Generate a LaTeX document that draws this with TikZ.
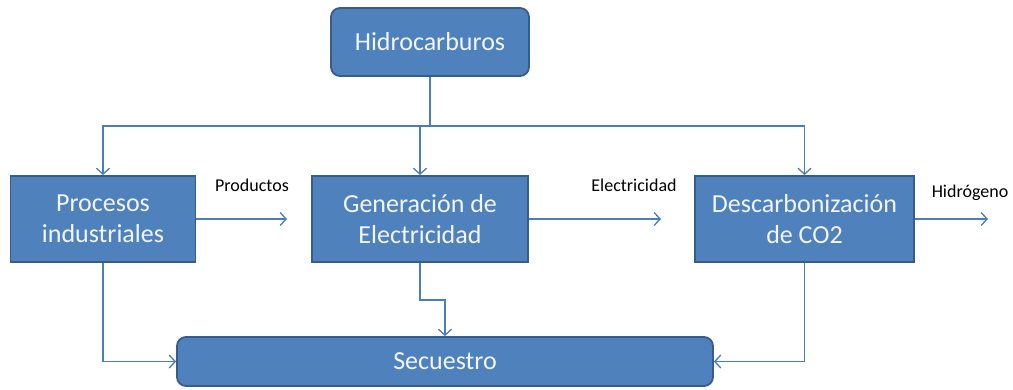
\documentclass[tikz,border=0pt]{standalone}
\usepackage{fontspec}
\setmainfont{Carlito}
\usetikzlibrary{arrows.meta,calc}
\definecolor{boxfill}{HTML}{4F81BD}
\definecolor{boxline}{HTML}{385D8A}
\definecolor{conn}{HTML}{4A7EBB}
\definecolor{boxtext}{HTML}{F2F5FA}
\tikzset{
  blk/.style={draw=boxline, fill=boxfill, line width=1.8pt, text=boxtext,
    font=\fontsize{26}{31}\selectfont, align=center, inner sep=0pt},
  rblk/.style={blk, rounded corners=9pt},
  arr/.style={draw=conn, line width=1.5pt,
    -{Straight Barb[length=6pt,width=13pt,line width=1.3pt]}},
  ln/.style={draw=conn, line width=1.5pt},
  lbl/.style={font=\fontsize{18}{21}\selectfont, text=black, inner sep=0pt}
}
\begin{document}
\begin{tikzpicture}[x=1pt,y=-1pt]
\useasboundingbox (0,0) rectangle (1013,389);
\node[rblk, minimum width=198pt, minimum height=68pt] (hid) at (430,42) {Hidrocarburos};
\node[blk, minimum width=185pt, minimum height=86pt] (proc) at (103,219) {Procesos\\industriales};
\node[blk, minimum width=216pt, minimum height=86pt] (gen) at (420,219) {Generación de\\Electricidad};
\node[blk, minimum width=219pt, minimum height=86pt] (desc) at (804.5,219) {Descarbonización\\de CO2};
\node[rblk, minimum width=536pt, minimum height=49pt] (sec) at (445,361.5) {Secuestro};

\node[lbl] (lp) at (252,185) {Productos};
\node[lbl] (le) at (634,185) {Electricidad};
\node[lbl] (lh) at (970,193) {Hidrógeno};

\coordinate (j) at (hid.south |- 0,126);
\coordinate (pe) at (287,219);
\coordinate (ee) at (661,219);
\coordinate (he) at (988,219);
\coordinate (gb) at (gen.south |- 0,300);

\draw[ln] (hid.south) -- (j);
\draw[arr] (j) -| (proc.north);
\draw[arr] (j) -| (gen.north);
\draw[arr] (j) -| (desc.north);

\draw[arr] (proc.east) -- (pe);
\draw[arr] (gen.east) -- (ee);
\draw[arr] (desc.east) -- (he);

\draw[arr] (proc.south) |- (sec.west);
\draw[arr] (desc.south) |- (sec.east);
\draw[arr] (gen.south) -- (gb) -| (sec.north);
\end{tikzpicture}
\end{document}
